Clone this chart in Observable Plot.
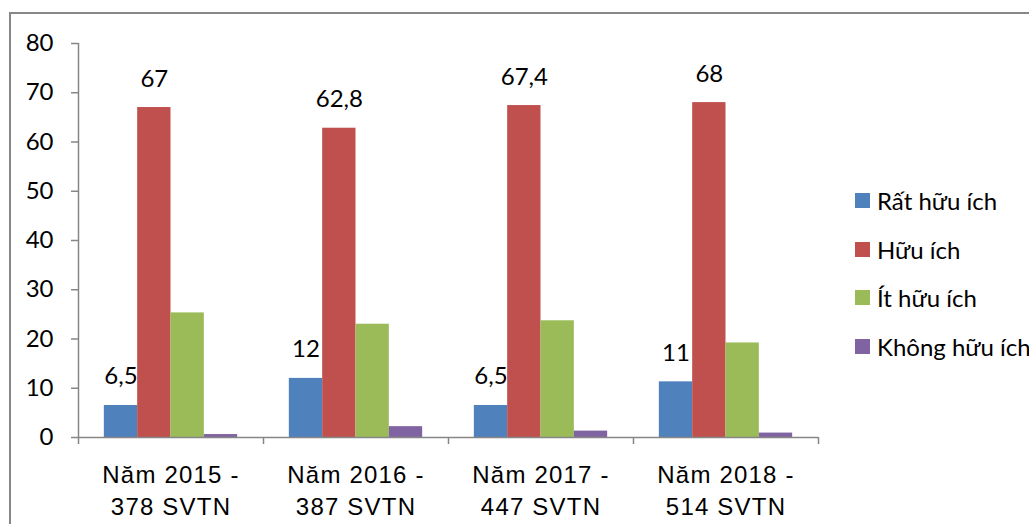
<!DOCTYPE html>
<html>
<head>
<meta charset="utf-8">
<script src="https://cdn.jsdelivr.net/npm/d3@7"></script>
<script src="https://cdn.jsdelivr.net/npm/@observablehq/plot@0.6"></script>
<style>
  html, body { margin: 0; padding: 0; background: #fff; overflow: hidden; width: 1029px; height: 524px; }
  #wrap { position: relative; width: 1029px; height: 524px; overflow: hidden; }
  #border { position: absolute; left: 9px; top: 12px; width: 1100px; height: 600px; border: 2px solid #878787; box-sizing: border-box; }
  #chart { position: absolute; left: 0; top: 0; }
  #legend { position: absolute; left: 855px; top: 0; font-family: Lato, "Open Sans", sans-serif; font-size: 24px; color: #000; }
  .item { position: absolute; left: 0; display: flex; align-items: center; white-space: nowrap; height: 30px; }
  .sw { width: 15px; height: 15px; margin-right: 7px; flex: none; }
  g[aria-label="x-axis tick label"] text { letter-spacing: 1.2px; }
</style>
</head>
<body>
<div id="wrap">
  <div id="border"></div>
  <div id="chart"></div>
  <div id="legend"></div>
</div>
<script>
// ---- data ----
const categoryLabels = ["Năm 2015 -\n378 SVTN", "Năm 2016 -\n387 SVTN", "Năm 2017 -\n447 SVTN", "Năm 2018 -\n514 SVTN"];
const seriesNames = ["Rất hữu ích", "Hữu ích", "Ít hữu ích", "Không hữu ích"];
const ratHuuIch = [6.5, 12, 6.5, 11.3];
const huuIch = [67, 62.8, 67.4, 68];
const itHuuIch = [25.3, 23.0, 23.7, 19.2];
const khongHuuIch = [0.6, 2.2, 1.3, 0.9];
const ratHuuIchLabels = ["6,5", "12", "6,5", "11"];
const huuIchLabels = ["67", "62,8", "67,4", "68"];
const seriesColors = ["#4F81BD", "#C0504D", "#9BBB59", "#8064A2"];
const yTicks = [0, 10, 20, 30, 40, 50, 60, 70, 80];

// ---- layout of grouped bars (Excel gap width) ----
const gapWidth = 1.55;
const nSeries = seriesNames.length;
const slot = 1 / (nSeries + gapWidth);
const allValues = [ratHuuIch, huuIch, itHuuIch, khongHuuIch];

const rows = [];
categoryLabels.forEach((c, ci) => {
  allValues.forEach((vals, si) => {
    const x1 = ci + (gapWidth / 2 + si) * slot;
    rows.push({ci, series: seriesNames[si], value: vals[ci], x1, x2: x1 + slot, xm: x1 + slot / 2});
  });
});
const labelRows = [];
categoryLabels.forEach((c, ci) => {
  [[0, ratHuuIchLabels], [1, huuIchLabels]].forEach(([si, labs]) => {
    const x1 = ci + (gapWidth / 2 + si) * slot;
    labelRows.push({xm: x1 + slot / 2, value: allValues[si][ci], text: labs[ci]});
  });
});

const axisColor = "#868686";

const chart = Plot.plot({
  width: 1029,
  height: 524,
  marginLeft: 78,
  marginRight: 211,
  marginTop: 43,
  marginBottom: 87,
  style: {background: "transparent", overflow: "visible"},
  x: {type: "linear", domain: [0, 4]},
  y: {domain: [0, 80]},
  color: {domain: seriesNames, range: seriesColors},
  marks: [
    Plot.rectY(rows, {x1: "x1", x2: "x2", y: "value", fill: "series"}),
    Plot.ruleX([0], {y1: 0, y2: 80, stroke: axisColor, strokeWidth: 1.5}),
    Plot.ruleY([0], {x1: 0, x2: 4, stroke: axisColor, strokeWidth: 1.5}),
    Plot.axisY({ticks: yTicks, tickSize: 7, tickPadding: 18, stroke: axisColor, strokeWidth: 1.5, fill: "#000",
      fontSize: 24, fontFamily: "Lato, 'Open Sans', sans-serif", label: null, tickFormat: d => String(d)}),
    Plot.axisX({ticks: [0, 1, 2, 3, 4], tickSize: 7, stroke: axisColor, strokeWidth: 1.5, tickFormat: () => "", label: null}),
    Plot.axisX({ticks: [0.5, 1.5, 2.5, 3.5], tickSize: 0, tickPadding: 23, fill: "#000",
      tickFormat: d => categoryLabels[Math.floor(d)], fontSize: 24, lineHeight: 1.33,
      fontFamily: "'Liberation Sans', Arial, sans-serif", label: null}),
    Plot.text(labelRows, {x: "xm", y: "value", text: "text", textAnchor: "middle", lineAnchor: "bottom", dy: -21,
      fontSize: 24, fontFamily: "Lato, 'Open Sans', sans-serif", fill: "#000"})
  ]
});
document.getElementById("chart").appendChild(chart);

// ---- legend (right side) ----
const legend = document.getElementById("legend");
const legendCenters = [200, 249, 297, 346];
seriesNames.forEach((name, i) => {
  const item = document.createElement("div");
  item.className = "item";
  item.style.top = (legendCenters[i] - 15) + "px";
  const sw = document.createElement("div");
  sw.className = "sw";
  sw.style.background = seriesColors[i];
  const t = document.createElement("span");
  t.textContent = name;
  item.appendChild(sw);
  item.appendChild(t);
  legend.appendChild(item);
});
</script>
</body>
</html>
